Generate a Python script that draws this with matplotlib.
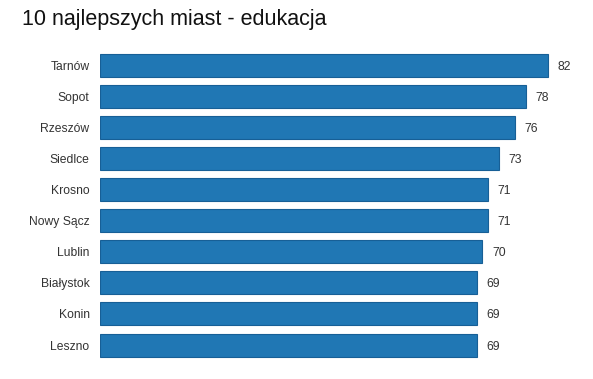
import matplotlib.pyplot as plt

# data
cities = ['Tarnów', 'Sopot', 'Rzeszów', 'Siedlce', 'Krosno',
          'Nowy Sącz', 'Lublin', 'Białystok', 'Konin', 'Leszno']
scores = [82, 78, 76, 73, 71, 71, 70, 69, 69, 69]

plt.rcParams['font.family'] = ['Liberation Sans', 'DejaVu Sans']

fig = plt.figure(figsize=(5.93, 3.79), dpi=100)
ax = fig.add_axes([100 / 593, 0.0485, 493 / 593, 0.8206])

pos = list(range(len(cities)))
ax.barh(pos, scores, height=0.74, color='#2077b4', edgecolor='#175f96', linewidth=0.8)

# value labels just right of each bar
for p, v in zip(pos, scores):
    ax.text(v + 1.8, p, str(v), va='center_baseline', ha='left', fontsize=8.7, color='#333333')

ax.set_yticks(pos)
ax.set_yticklabels(cities, fontsize=8.7, color='#333333')
ax.tick_params(axis='y', length=0, pad=7.5)
ax.set_xticks([])
ax.set_xlim(0, 90.3)
ax.set_ylim(9.5, -0.5)
for s in ax.spines.values():
    s.set_visible(False)

fig.text(22 / 593, 1 - 20 / 379, '10 najlepszych miast - edukacja',
         fontsize=15.5, va='center', ha='left', color='#111111')

fig.savefig('out.png', dpi=100)
plt.close(fig)
